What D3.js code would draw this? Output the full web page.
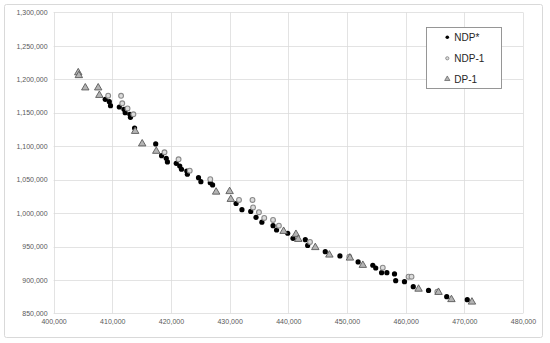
<!DOCTYPE html>
<html>
<head>
<meta charset="utf-8">
<script src="https://cdn.jsdelivr.net/npm/d3@7"></script>
<style>
  html, body { margin: 0; padding: 0; background: #fff; }
  svg { display: block; }
</style>
</head>
<body>
<script>
// ---- data ----
const seriesNames = ["NDP*", "NDP-1", "DP-1"];

const ndpStarX = [408800,409500,409700,411200,412000,412200,413000,413100,413800,417400,418400,419200,419400,420900,421500,421800,422700,422800,424700,425100,426700,427100,431100,432100,433600,434500,435500,437400,438000,439900,440800,442900,443300,446300,448800,451900,454400,454900,455900,456800,458100,458300,459800,461300,463900,467000,470500];
const ndpStarY = [1170100,1166500,1160500,1158600,1155200,1150100,1147700,1143200,1127200,1103300,1085800,1081900,1076400,1074400,1070400,1065500,1062900,1058000,1052900,1046900,1045400,1042000,1014300,1005100,1002400,993700,986400,981200,974700,969800,962300,960200,951600,942300,935900,926900,922000,917900,910900,910900,909000,898900,897500,890000,884300,875000,870500];

const ndp1X = [409300,411500,411700,412600,413600,418900,421300,423200,426700,431600,433900,434000,435000,435900,437400,438400,443700,450400,456100,460500,461000,465400];
const ndp1Y = [1175500,1175300,1164100,1156400,1147700,1090900,1080400,1063400,1050700,1019600,1019600,1008400,1001300,992700,989700,981200,956800,934800,918400,904900,904900,882500];

const dp1X = [404200,404300,405400,407600,407800,413900,415100,417500,427700,430000,430200,439200,441300,441700,444600,447000,450500,452700,462200,465600,467800,471300];
const dp1Y = [1209900,1205700,1187300,1187300,1176100,1122300,1103600,1092500,1031500,1032300,1020600,972800,968300,960800,948600,937400,932900,922000,886400,881600,870800,867100];

const xTicks = [400000,410000,420000,430000,440000,450000,460000,470000,480000];
const yTicks = [850000,900000,950000,1000000,1050000,1100000,1150000,1200000,1250000,1300000];

// ---- layout ----
const W = 550, H = 343;
const plot = { left: 53.6, right: 523, top: 12.4, bottom: 313.4 };

const svg = d3.select("body").append("svg").attr("width", W).attr("height", H);

svg.append("rect").attr("x", 4.5).attr("y", 4.5).attr("width", 538).attr("height", 333)
  .attr("rx", 2).attr("fill", "#fff").attr("stroke", "#d9d9d9").attr("stroke-width", 1);

const x = d3.scaleLinear().domain([400000, 480000]).range([plot.left, plot.right]);
const y = d3.scaleLinear().domain([850000, 1300000]).range([plot.bottom, plot.top]);

// gridlines
const grid = svg.append("g").attr("stroke", "#d9d9d9").attr("stroke-width", 0.75);
grid.selectAll("line.h").data(yTicks).join("line").attr("class", "h")
  .attr("x1", plot.left).attr("x2", plot.right)
  .attr("y1", d => Math.round(y(d)) + 0.5).attr("y2", d => Math.round(y(d)) + 0.5);
grid.selectAll("line.v").data(xTicks).join("line").attr("class", "v")
  .attr("y1", plot.top).attr("y2", plot.bottom)
  .attr("x1", d => Math.round(x(d)) + 0.5).attr("x2", d => Math.round(x(d)) + 0.5);

// axes (labels only)
const fmt = d3.format(",");
const yAxis = svg.append("g").attr("transform", `translate(${plot.left - 6},0)`)
  .call(d3.axisLeft(y).tickValues(yTicks).tickFormat(fmt).tickSize(0).tickPadding(0));
const xAxis = svg.append("g").attr("transform", `translate(0,${plot.bottom + 6})`)
  .call(d3.axisBottom(x).tickValues(xTicks).tickFormat(fmt).tickSize(0).tickPadding(0));
[yAxis, xAxis].forEach(a => {
  a.select(".domain").remove();
  a.selectAll("text").attr("fill", "#595959").style("font-family", "'Liberation Sans', Arial, sans-serif").style("font-size", "7px");
});

// series
const ndpStar = ndpStarX.map((v, i) => [v, ndpStarY[i]]);
const ndp1 = ndp1X.map((v, i) => [v, ndp1Y[i]]);
const dp1 = dp1X.map((v, i) => [v, dp1Y[i]]);

svg.append("g").selectAll("circle").data(ndpStar).join("circle")
  .attr("cx", d => x(d[0])).attr("cy", d => y(d[1])).attr("r", 2.6).attr("fill", "#000");

svg.append("g").selectAll("circle").data(ndp1).join("circle")
  .attr("cx", d => x(d[0])).attr("cy", d => y(d[1])).attr("r", 2.4)
  .attr("fill", "#dcdcdc").attr("stroke", "#8a8a8a").attr("stroke-width", 1.1);

const tri = d3.symbol(d3.symbolTriangle, 24);
svg.append("g").selectAll("path").data(dp1).join("path")
  .attr("d", tri).attr("transform", d => `translate(${x(d[0])},${y(d[1])})`)
  .attr("fill", "#b4b4b4").attr("stroke", "#5a5a5a").attr("stroke-width", 0.9);

// legend
const lg = svg.append("g");
lg.append("rect").attr("x", 426.5).attr("y", 27.5).attr("width", 75).attr("height", 61)
  .attr("fill", "#fff").attr("stroke", "#8c8c8c").attr("stroke-width", 0.9);
const ly = [37.3, 58.3, 79];
lg.append("circle").attr("cx", 447.3).attr("cy", ly[0]).attr("r", 1.8).attr("fill", "#000");
lg.append("circle").attr("cx", 447.3).attr("cy", ly[1]).attr("r", 1.6)
  .attr("fill", "#dcdcdc").attr("stroke", "#8a8a8a").attr("stroke-width", 0.9);
lg.append("path").attr("d", d3.symbol(d3.symbolTriangle, 12)).attr("transform", `translate(447.3,${ly[2]})`)
  .attr("fill", "#b4b4b4").attr("stroke", "#5a5a5a").attr("stroke-width", 0.7);
lg.selectAll("text").data(seriesNames).join("text")
  .attr("x", 454.3).attr("y", (d, i) => ly[i]).attr("dy", "0.35em")
  .attr("fill", "#262626").style("font-family", "'Liberation Sans', Arial, sans-serif").style("font-size", "10px")
  .text(d => d);
</script>
</body>
</html>
